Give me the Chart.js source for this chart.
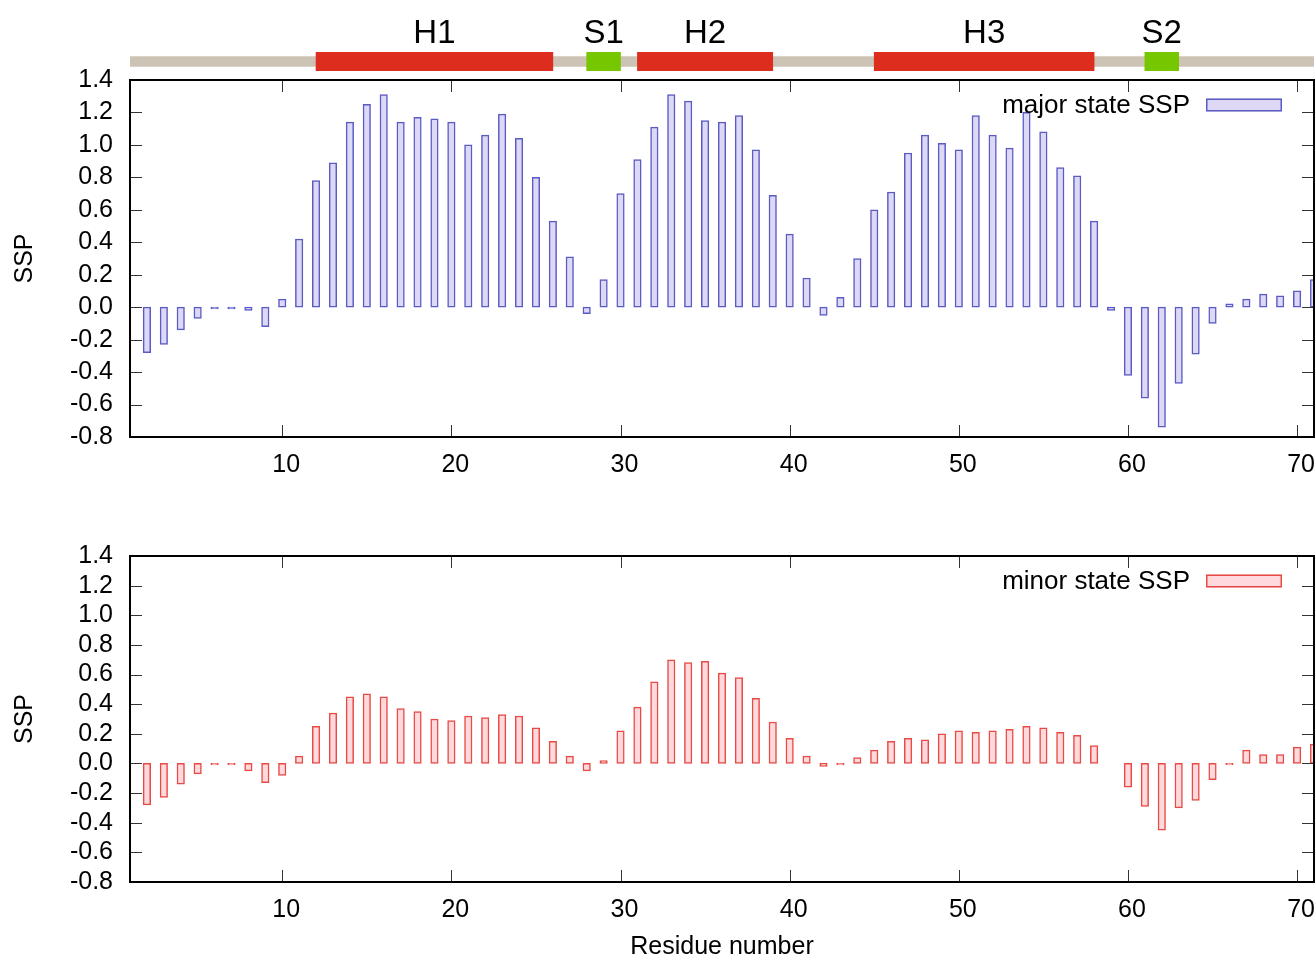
<!DOCTYPE html>
<html>
<head>
<meta charset="utf-8">
<script src="https://cdn.jsdelivr.net/npm/chart.js@4.4.1/dist/chart.umd.min.js"></script>
<style>
  html, body { margin: 0; padding: 0; background: #fff; }
  #wrap { position: relative; width: 1316px; height: 962px; overflow: hidden; }
  canvas { position: absolute; left: 0; }
  #ssChart { top: 0; }
  #majorChart { top: 0; }
  #minorChart { top: 480px; }
</style>
</head>
<body>
<div id="wrap">
  <canvas id="ssChart" width="1316" height="80"></canvas>
  <canvas id="majorChart" width="1316" height="500"></canvas>
  <canvas id="minorChart" width="1316" height="482"></canvas>
</div>
<script>
// residue numbers and SSP values
const residues = [2, 3, 4, 5, 6, 7, 8, 9, 10, 11, 12, 13, 14, 15, 16, 17, 18, 19, 20, 21,
  22, 23, 24, 25, 26, 27, 28, 29, 30, 31, 32, 33, 34, 35, 36, 37, 38, 39, 40, 41,
  42, 43, 44, 45, 46, 47, 48, 49, 50, 51, 52, 53, 54, 55, 56, 57, 58, 59, 60, 61,
  62, 63, 64, 65, 66, 67, 68, 69, 70, 71];

const majorSSP = [-0.28, -0.23, -0.14, -0.07, -0.01, -0.01, -0.02, -0.12, 0.05, 0.42,
  0.78, 0.89, 1.14, 1.25, 1.31, 1.14, 1.17, 1.16, 1.14, 1.00,
  1.06, 1.19, 1.04, 0.80, 0.53, 0.31, -0.04, 0.17, 0.70, 0.91,
  1.11, 1.31, 1.27, 1.15, 1.14, 1.18, 0.97, 0.69, 0.45, 0.18,
  -0.05, 0.06, 0.30, 0.60, 0.71, 0.95, 1.06, 1.01, 0.97, 1.18,
  1.06, 0.98, 1.20, 1.08, 0.86, 0.81, 0.53, -0.02, -0.42, -0.56,
  -0.74, -0.47, -0.29, -0.10, 0.02, 0.05, 0.08, 0.07, 0.10, 0.17];

const minorSSP = [-0.28, -0.23, -0.14, -0.07, -0.01, -0.01, -0.05, -0.13, -0.08, 0.05,
  0.25, 0.34, 0.45, 0.47, 0.45, 0.37, 0.35, 0.30, 0.29, 0.32,
  0.31, 0.33, 0.32, 0.24, 0.15, 0.05, -0.05, 0.02, 0.22, 0.38,
  0.55, 0.70, 0.68, 0.69, 0.61, 0.58, 0.44, 0.28, 0.17, 0.05,
  -0.02, -0.01, 0.04, 0.09, 0.15, 0.17, 0.16, 0.20, 0.22, 0.21,
  0.22, 0.23, 0.25, 0.24, 0.21, 0.19, 0.12, 0.00, -0.16, -0.29,
  -0.45, -0.30, -0.25, -0.11, -0.01, 0.09, 0.06, 0.06, 0.11, 0.13];

const xTicks = [10, 20, 30, 40, 50, 60, 70];
const yTicks = [-0.8, -0.6, -0.4, -0.2, 0.0, 0.2, 0.4, 0.6, 0.8, 1.0, 1.2, 1.4];

// secondary structure elements along the chain
const chainRange = [1, 71];
const ssNames = ['H1', 'S1', 'H2', 'H3', 'S2'];
const ssStart = [12, 28, 31, 45, 61];
const ssEnd = [26, 30, 39, 58, 63];
const ssKind = ['helix', 'strand', 'helix', 'helix', 'strand'];

const FONT = '"Liberation Sans", Arial, Helvetica, sans-serif';
const kindColor = { helix: '#dc2d1e', strand: '#76c600' };

// labels above the secondary structure strip
const ssLabelPlugin = {
  id: 'ssLabels',
  afterDatasetsDraw(chart) {
    const ctx = chart.ctx;
    const x = chart.scales.x;
    ctx.save();
    ctx.font = '33px ' + FONT;
    ctx.fillStyle = '#000';
    ctx.textAlign = 'center';
    ctx.textBaseline = 'alphabetic';
    ssNames.forEach((name, i) => {
      ctx.fillText(name, x.getPixelForValue((ssStart[i] + ssEnd[i]) / 2), 43);
    });
    ctx.restore();
  }
};

new Chart(document.getElementById('ssChart'), {
  type: 'bar',
  data: {
    datasets: [{
      data: ssNames.map((n, i) => ({ x: [ssStart[i], ssEnd[i]], y: 1 })),
      backgroundColor: ssKind.map(k => kindColor[k]),
      barThickness: 19,
      grouped: false
    }, {
      data: [{ x: chainRange, y: 1 }],
      backgroundColor: '#cdc3b5',
      barThickness: 10,
      grouped: false
    }]
  },
  options: {
    indexAxis: 'y',
    responsive: false,
    animation: false,
    layout: { padding: { left: 130, right: 2, top: 52, bottom: 9 } },
    scales: {
      x: { type: 'linear', min: 1, max: 71, display: false, offset: false },
      y: { type: 'linear', min: 0, max: 2, display: false, offset: false }
    },
    plugins: { legend: { display: false }, tooltip: { enabled: false } }
  },
  plugins: [ssLabelPlugin]
});

// gnuplot style frame with inward ticks on all four sides
const framePlugin = {
  id: 'frame',
  afterDraw(chart) {
    const { ctx, chartArea: a, scales } = chart;
    ctx.save();
    ctx.strokeStyle = '#333';
    ctx.lineWidth = 1;
    ctx.beginPath();
    xTicks.forEach(v => {
      const px = Math.round(scales.x.getPixelForValue(v)) + 0.5;
      ctx.moveTo(px, a.bottom); ctx.lineTo(px, a.bottom - 12);
      ctx.moveTo(px, a.top); ctx.lineTo(px, a.top + 12);
    });
    yTicks.forEach(v => {
      const py = Math.round(scales.y.getPixelForValue(v)) + 0.5;
      ctx.moveTo(a.left, py); ctx.lineTo(a.left + 12, py);
      ctx.moveTo(a.right, py); ctx.lineTo(a.right - 12, py);
    });
    ctx.stroke();
    ctx.strokeStyle = '#000';
    ctx.lineWidth = 2;
    ctx.strokeRect(a.left, a.top, a.right - a.left, a.bottom - a.top);
    ctx.restore();
  }
};

// key in the top right corner: text, then a sample box
const keyPlugin = {
  id: 'key',
  afterDraw(chart) {
    const { ctx, chartArea: a } = chart;
    const ds = chart.data.datasets[0];
    ctx.save();
    ctx.font = '26px ' + FONT;
    ctx.fillStyle = '#000';
    ctx.textAlign = 'right';
    ctx.textBaseline = 'middle';
    ctx.fillText(ds.label, a.right - 124, a.top + 25.5);
    const bx = a.right - 108, by = a.top + 18.5;
    ctx.fillStyle = ds.backgroundColor;
    ctx.fillRect(bx, by, 76, 13);
    ctx.strokeStyle = ds.borderColor;
    ctx.lineWidth = 1.5;
    ctx.strokeRect(bx + 0.75, by + 0.75, 74.5, 11.5);
    ctx.restore();
  }
};

function makeSSPChart(id, values, label, fill, line, padTop, xHeight, showXTitle) {
  return new Chart(document.getElementById(id), {
    type: 'bar',
    data: {
      datasets: [{
        label: label,
        data: residues.map((r, i) => ({ x: r, y: values[i] })),
        backgroundColor: fill,
        borderColor: line,
        borderWidth: 1.5,
        borderSkipped: false,
        barThickness: 7.5
      }]
    },
    options: {
      responsive: false,
      animation: false,
      layout: { padding: { left: 0, right: 2, top: padTop, bottom: 0 } },
      scales: {
        x: {
          type: 'linear',
          min: 1,
          max: 71,
          offset: false,
          afterBuildTicks: s => { s.ticks = xTicks.map(v => ({ value: v })); },
          afterFit: s => { s.height = xHeight; s.paddingLeft = 0; s.paddingRight = 0; },
          grid: { display: false, drawTicks: false, offset: false },
          border: { display: false },
          ticks: { font: { family: FONT, size: 25 }, color: '#000', padding: 13, labelOffset: 4, maxRotation: 0, autoSkip: false },
          title: {
            display: showXTitle,
            text: 'Residue number',
            color: '#000',
            font: { family: FONT, size: 25 },
            padding: { top: 0, bottom: 0 }
          }
        },
        y: {
          type: 'linear',
          min: -0.8,
          max: 1.4,
          afterBuildTicks: s => { s.ticks = yTicks.map(v => ({ value: v })); },
          afterFit: s => { s.width = 130; s.paddingTop = 0; s.paddingBottom = 0; },
          grid: { display: false, drawTicks: false },
          border: { display: false },
          ticks: {
            font: { family: FONT, size: 25 },
            color: '#000',
            padding: 17,
            autoSkip: false,
            callback: v => v.toFixed(1)
          },
          title: {
            display: true,
            text: 'SSP',
            color: '#000',
            font: { family: FONT, size: 25 },
            padding: { top: 10, bottom: 0 }
          }
        }
      },
      plugins: { legend: { display: false }, tooltip: { enabled: false } }
    },
    plugins: [framePlugin, keyPlugin]
  });
}

makeSSPChart('majorChart', majorSSP, 'major state SSP', '#dcd8f6', '#5b5bc4', 80, 63, false);
makeSSPChart('minorChart', minorSSP, 'minor state SSP', '#ffd9dc', '#e84a46', 76, 80, true);
</script>
</body>
</html>
